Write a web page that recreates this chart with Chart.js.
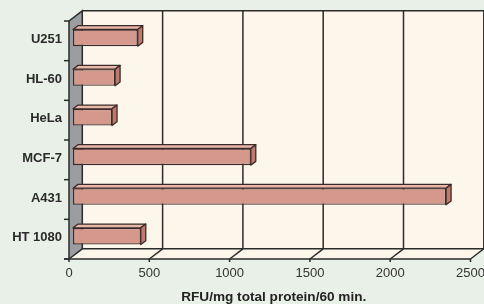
<!DOCTYPE html>
<html>
<head>
<meta charset="utf-8">
<script src="https://cdn.jsdelivr.net/npm/chart.js@4/dist/chart.umd.min.js"></script>
<style>
  html, body { margin: 0; padding: 0; background: #e9f0e7; }
  #wrap { width: 484px; height: 304px; position: relative; }
</style>
</head>
<body>
<div id="wrap"><canvas id="chart"></canvas></div>
<script>
// data
const cellLines = ['U251', 'HL-60', 'HeLa', 'MCF-7', 'A431', 'HT 1080'];
const rfuValues = [403, 262, 243, 1107, 2323, 422];
const xTicks = [0, 500, 1000, 1500, 2000, 2500];
const xTitle = 'RFU/mg total protein/60 min.';

// 3d look: offsets from the bar plane
const FRONT = { dx: -4, dy: 3 };
const BACK = { dx: 9.3, dy: -7.2 };
const BAR_DEPTH = { dx: 5, dy: -3.8 };

const line = (ctx, pts, close) => {
  ctx.beginPath();
  ctx.moveTo(pts[0][0], pts[0][1]);
  for (let i = 1; i < pts.length; i++) ctx.lineTo(pts[i][0], pts[i][1]);
  if (close) ctx.closePath();
};

//walls, floor, grid and labels
const box3d = {
  id: 'box3d',
  beforeDraw(chart) {
    const ctx = chart.ctx;
    const x = chart.scales.x, y = chart.scales.y;
    ctx.save();
    ctx.fillStyle = '#e9f0e7';
    ctx.fillRect(0, 0, chart.width, chart.height);

    const x0 = x.getPixelForValue(0), x1 = x.getPixelForValue(2500);
    const top = y.top, bot = y.bottom;
    const bx0 = x0 + BACK.dx, bx1 = x1 + BACK.dx, btop = top + BACK.dy, bbot = bot + BACK.dy;
    const fx0 = x0 + FRONT.dx, fx1 = x1 + FRONT.dx, ftop = top + FRONT.dy, fbot = bot + FRONT.dy;

    // back wall
    ctx.fillStyle = '#fdf6eb';
    ctx.fillRect(bx0, btop, bx1 - bx0 + 20, bbot - btop);
    // floor
    line(ctx, [[fx0, fbot], [fx1, fbot], [bx1, bbot], [bx0, bbot]], true);
    ctx.fill();
    // left wall
    ctx.fillStyle = '#9c9da1';
    line(ctx, [[fx0, ftop], [bx0, btop], [bx0, bbot], [fx0, fbot]], true);
    ctx.fill();

    ctx.strokeStyle = '#2b2b2b';
    ctx.lineWidth = 1.5;
    // grid lines on back wall and floor
    xTicks.forEach((v) => {
      const px = x.getPixelForValue(v);
      if (v > 0) {
        line(ctx, [[px + BACK.dx, btop], [px + BACK.dx, bbot]]);
        ctx.stroke();
      }
      line(ctx, [[px + FRONT.dx, fbot + 3], [px + FRONT.dx, fbot], [px + BACK.dx, bbot]]);
      ctx.stroke();
    });
    // wall edges
    line(ctx, [[bx0, btop], [bx1 + 20, btop]]); ctx.stroke();
    line(ctx, [[fx0, ftop], [bx0, btop], [bx0, bbot], [bx1 + 20, bbot]]); ctx.stroke();
    line(ctx, [[fx0, ftop], [fx0, fbot], [fx1, fbot]]); ctx.stroke();
    line(ctx, [[fx0 - 5, fbot], [fx0, fbot]]); ctx.stroke();

    // category ticks on front axis
    const catH = (bot - top) / cellLines.length;
    for (let i = 0; i <= cellLines.length; i++) {
      const py = ftop + i * catH;
      line(ctx, [[fx0 - 5, py], [fx0, py]]);
      ctx.stroke();
    }

    // category labels
    ctx.fillStyle = '#2a2a2a';
    ctx.font = 'bold 13px "Liberation Sans", Arial, sans-serif';
    ctx.textAlign = 'right';
    ctx.textBaseline = 'middle';
    cellLines.forEach((c, i) => {
      ctx.fillText(c, fx0 - 7, y.getPixelForValue(i) + FRONT.dy - 1.5);
    });

    // value labels
    ctx.fillStyle = '#333333';
    ctx.font = '13px "Liberation Sans", Arial, sans-serif';
    ctx.textAlign = 'center';
    xTicks.forEach((v) => {
      ctx.fillText(String(v), x.getPixelForValue(v) + FRONT.dx, fbot + 14);
    });

    ctx.fillStyle = '#222222';
    ctx.font = 'bold 13.6px "Liberation Sans", Arial, sans-serif';
    ctx.fillText(xTitle, (fx0 + fx1) / 2 + 4, 297);
    ctx.restore();
  },
  afterDatasetsDraw(chart) {
    // top and end faces of each bar
    const ctx = chart.ctx;
    const meta = chart.getDatasetMeta(0);
    ctx.save();
    ctx.strokeStyle = '#3b2b28';
    ctx.lineWidth = 1.3;
    ctx.lineJoin = 'round';
    meta.data.forEach((bar) => {
      const p = bar.getProps(['x', 'y', 'base', 'height'], true);
      const t = p.y - p.height / 2, b = p.y + p.height / 2;
      const d = BAR_DEPTH;
      ctx.fillStyle = '#e8b7aa';
      line(ctx, [[p.base, t], [p.base + d.dx, t + d.dy], [p.x + d.dx, t + d.dy], [p.x, t]], true);
      ctx.fill(); ctx.stroke();
      ctx.fillStyle = '#c0796e';
      line(ctx, [[p.x, t], [p.x + d.dx, t + d.dy], [p.x + d.dx, b + d.dy], [p.x, b]], true);
      ctx.fill(); ctx.stroke();
    });
    ctx.restore();
  }
};

new Chart(document.getElementById('chart'), {
  type: 'bar',
  data: {
    labels: cellLines,
    datasets: [{
      data: rfuValues,
      backgroundColor: '#d4998c',
      borderColor: '#3b2b28',
      borderWidth: 1.3,
      borderSkipped: false,
      barPercentage: 0.42,
      categoryPercentage: 1
    }]
  },
  options: {
    indexAxis: 'y',
    responsive: true,
    maintainAspectRatio: false,
    animation: false,
    layout: { padding: { left: 73, right: 9.5, top: 18, bottom: 48 } },
    plugins: { legend: { display: false }, tooltip: { enabled: false } },
    scales: {
      x: { type: 'linear', min: 0, max: 2500, display: false },
      y: { display: false }
    }
  },
  plugins: [box3d]
});
</script>
</body>
</html>
